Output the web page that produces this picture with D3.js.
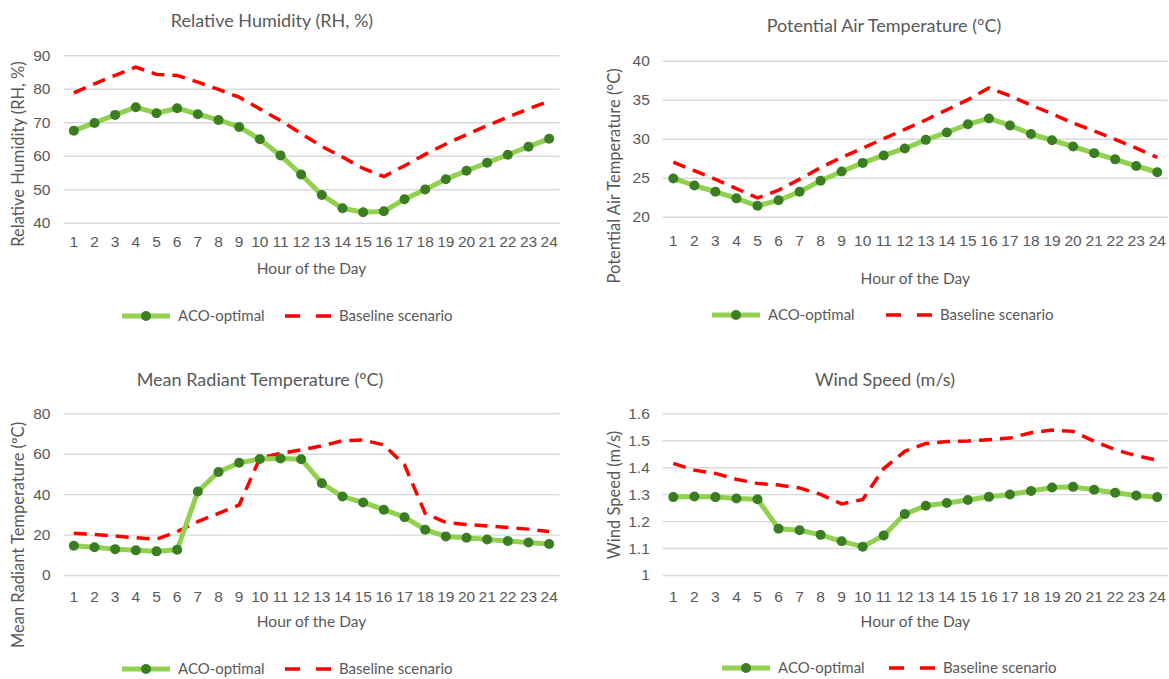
<!DOCTYPE html>
<html>
<head>
<meta charset="utf-8">
<script src="https://cdn.jsdelivr.net/npm/d3@7"></script>
<style>
  body { margin: 0; background: #fff; }
  svg { font-family: Lato, "Open Sans", sans-serif; }
</style>
</head>
<body>
<div id="chart"></div>
<script>
const hours = d3.range(1, 25);

// relative humidity (%)
const rhAco = [67.5, 69.8, 72.2, 74.5, 72.7, 74.2, 72.4, 70.7, 68.6, 64.9, 60.1, 54.4,
  48.3, 44.3, 43.1, 43.4, 47.0, 49.9, 53.0, 55.5, 57.9, 60.3, 62.7, 65.1];
const rhBase = [78.8, 81.5, 84.0, 86.5, 84.3, 84.0, 82.0, 79.8, 77.5, 74.0, 70.5, 66.6,
  62.8, 59.6, 56.2, 53.8, 57.0, 60.4, 63.5, 66.3, 69.0, 71.5, 74.0, 76.3];
const rhTicks = [40, 50, 60, 70, 80, 90];

// potential air temperature (°C)
const tAco = [24.9, 24.0, 23.2, 22.35, 21.4, 22.1, 23.2, 24.6, 25.8, 26.9, 27.85, 28.75,
  29.85, 30.8, 31.85, 32.6, 31.7, 30.6, 29.8, 29.0, 28.15, 27.35, 26.5, 25.7];
const tBase = [27.0, 25.9, 24.8, 23.6, 22.4, 23.4, 24.8, 26.3, 27.6, 28.8, 30.0, 31.2,
  32.4, 33.7, 35.0, 36.5, 35.5, 34.3, 33.2, 32.0, 31.0, 29.9, 28.8, 27.6];
const tTicks = [20, 25, 30, 35, 40];

// mean radiant temperature (ºC)
const mrtAco = [14.5, 13.7, 12.8, 12.2, 11.7, 12.5, 41.3, 51.0, 55.5, 57.4, 57.6, 57.3,
  45.4, 38.8, 35.9, 32.3, 28.6, 22.4, 19.1, 18.4, 17.6, 16.8, 16.1, 15.3];
const mrtBase = [20.7, 20.0, 19.3, 18.4, 17.7, 21.4, 26.4, 30.5, 34.6, 57.8, 60.2, 61.9,
  63.9, 66.4, 66.8, 64.4, 54.5, 30.5, 26.0, 25.0, 24.3, 23.5, 22.7, 21.5];
const mrtTicks = [0, 20, 40, 60, 80];

// wind speed (m/s)
const wsAco = [1.289, 1.291, 1.289, 1.284, 1.281, 1.172, 1.166, 1.149, 1.125, 1.105, 1.147, 1.226,
  1.257, 1.267, 1.278, 1.290, 1.299, 1.312, 1.325, 1.327, 1.316, 1.305, 1.295, 1.289];
const wsBase = [1.414, 1.389, 1.377, 1.355, 1.340, 1.334, 1.323, 1.299, 1.264, 1.280, 1.395, 1.459,
  1.488, 1.495, 1.497, 1.502, 1.508, 1.528, 1.538, 1.533, 1.496, 1.465, 1.443, 1.426];
const wsTicks = [1, 1.1, 1.2, 1.3, 1.4, 1.5, 1.6];

const seriesNames = ["ACO-optimal", "Baseline scenario"];

const GREEN = "#92d050", DOT = "#3b7d23", RED = "#ff0000", TXT = "#595959", GRID = "#d9d9d9";

const svg = d3.select("#chart").append("svg")
  .attr("width", 1169).attr("height", 679);

function drawPanel(p) {
  const g = svg.append("g");

  const x = d3.scaleBand().domain(hours).range([p.left, p.right]);
  const y = d3.scaleLinear().domain(d3.extent(p.ticks)).range([p.bottom, p.top]);
  const cx = h => x(h) + x.bandwidth() / 2;

  // grid + y labels
  g.append("g")
    .attr("transform", `translate(${p.left},0)`)
    .call(d3.axisLeft(y).tickValues(p.ticks).tickSize(-(p.right - p.left)).tickPadding(13)
      .tickFormat(d => String(+d.toFixed(1))))
    .call(a => a.select(".domain").remove())
    .call(a => a.selectAll("line").attr("stroke", GRID).attr("stroke-width", 1.4))
    .call(a => a.selectAll("text").attr("fill", TXT).style("font-size", "15.5px"));

  // x labels
  g.append("g")
    .attr("transform", `translate(0,${p.xLabelY})`)
    .call(d3.axisBottom(x).tickSize(0).tickPadding(0))
    .call(a => a.select(".domain").remove())
    .call(a => a.selectAll("text").attr("fill", TXT).style("font-size", "15.5px").attr("dy", "0.35em"));

  const line = d3.line().x((d, i) => cx(hours[i])).y(d => y(d));

  g.append("path").datum(p.base)
    .attr("d", line).attr("fill", "none")
    .attr("stroke", RED).attr("stroke-width", 3.5).attr("stroke-dasharray", "13,8");

  g.append("path").datum(p.aco)
    .attr("d", line).attr("fill", "none")
    .attr("stroke", GREEN).attr("stroke-width", 5).attr("stroke-linejoin", "round");

  g.selectAll("circle.pt").data(p.aco).join("circle")
    .attr("class", "pt")
    .attr("cx", (d, i) => cx(hours[i])).attr("cy", d => y(d))
    .attr("r", 5).attr("fill", DOT);

  // titles
  g.append("text").attr("x", p.titleX).attr("y", p.titleY)
    .attr("text-anchor", "middle").attr("fill", TXT).style("font-size", "18px")
    .text(p.title);

  g.append("text").attr("x", (p.left + p.right) / 2).attr("y", p.xTitleY)
    .attr("text-anchor", "middle").attr("fill", TXT).style("font-size", "15.5px")
    .text("Hour of the Day");

  g.append("text")
    .attr("transform", `translate(${p.yTitleX},${p.yTitleY}) rotate(-90)`)
    .attr("text-anchor", "middle").attr("dy", "0.35em")
    .attr("fill", TXT).style("font-size", "16.5px")
    .text(p.yTitle);

  // legend
  const lg = g.append("g").attr("transform", `translate(${p.legX},${p.legY})`);
  lg.append("line").attr("x1", 0).attr("x2", 48).attr("stroke", GREEN).attr("stroke-width", 5);
  lg.append("circle").attr("cx", 24).attr("r", 5).attr("fill", DOT);
  lg.append("text").attr("x", 56).attr("dy", "0.35em").attr("fill", TXT)
    .style("font-size", "15px").text(seriesNames[0]);
  lg.append("line").attr("x1", p.legGap).attr("x2", p.legGap + 46)
    .attr("stroke", RED).attr("stroke-width", 3.5).attr("stroke-dasharray", "15,16");
  lg.append("text").attr("x", p.legGap + 54).attr("dy", "0.35em").attr("fill", TXT)
    .style("font-size", "15px").text(seriesNames[1]);
}

drawPanel({
  title: "Relative Humidity (RH, %)", yTitle: "Relative Humidity (RH, %)",
  aco: rhAco, base: rhBase, ticks: rhTicks,
  left: 63.5, right: 559.5, top: 55.3, bottom: 222.7,
  xLabelY: 242, xTitleY: 274, titleX: 272, titleY: 27,
  yTitleX: 18, yTitleY: 154, legX: 122, legY: 316, legGap: 163
});

drawPanel({
  title: "Potential Air Temperature (°C)", yTitle: "Potential Air Temperature (°C)",
  aco: tAco, base: tBase, ticks: tTicks,
  left: 662.8, right: 1167.8, top: 60.7, bottom: 216.7,
  xLabelY: 240.5, xTitleY: 284, titleX: 884, titleY: 32,
  yTitleX: 614, yTitleY: 176, legX: 712, legY: 315, legGap: 174
});

drawPanel({
  title: "Mean Radiant Temperature (ºC)", yTitle: "Mean Radiant Temperature (ºC)",
  aco: mrtAco, base: mrtBase, ticks: mrtTicks,
  left: 63.5, right: 559.5, top: 413.3, bottom: 575,
  xLabelY: 597, xTitleY: 627, titleX: 260, titleY: 386,
  yTitleX: 18, yTitleY: 535, legX: 122, legY: 669, legGap: 163
});

drawPanel({
  title: "Wind Speed (m/s)", yTitle: "Wind Speed (m/s)",
  aco: wsAco, base: wsBase, ticks: wsTicks,
  left: 662.8, right: 1167.8, top: 413.3, bottom: 575,
  xLabelY: 597, xTitleY: 627, titleX: 885, titleY: 386,
  yTitleX: 614, yTitleY: 495, legX: 722, legY: 668, legGap: 167
});
</script>
</body>
</html>
